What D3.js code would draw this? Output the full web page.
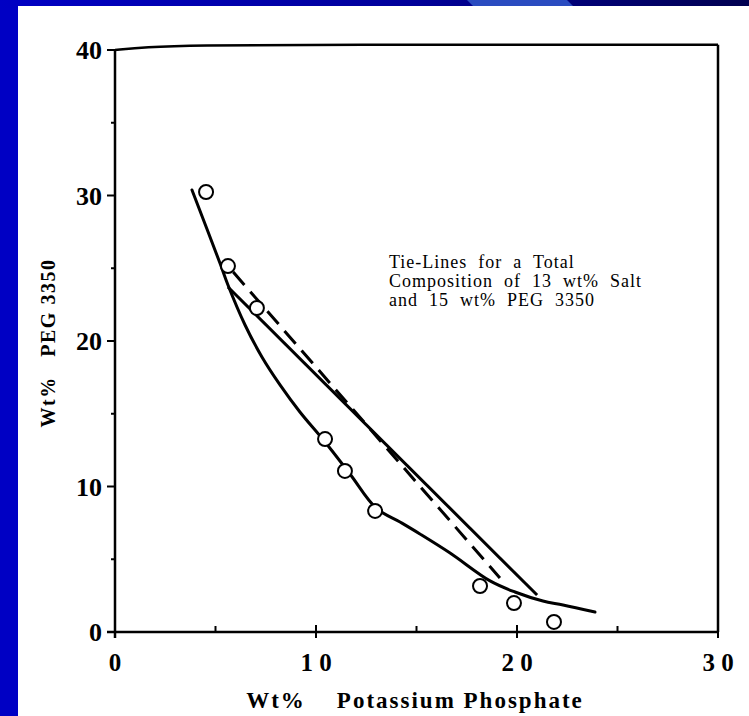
<!DOCTYPE html>
<html><head><meta charset="utf-8">
<script src="https://cdn.jsdelivr.net/npm/d3@7"></script>
<style>
html,body{margin:0;padding:0;background:#fff;}
svg{display:block;}
text{font-family:"Liberation Serif","Times New Roman",serif;fill:#000;}
</style></head>
<body>
<svg id="chart" width="749" height="716"></svg>
<script>
// ---- data ----
const pointX = [4.53, 5.62, 7.06, 10.45, 11.44, 12.94, 18.16, 19.85, 21.84];
const pointY = [30.24, 25.15, 22.27, 13.26, 11.07, 8.32, 3.16, 1.99, 0.69];

const binodalX = [3.83, 5.22, 5.62, 6.47, 7.31, 8.21, 9.2, 10.45, 11.69, 12.99, 14.18, 15.17, 16.67, 18.66, 19.9, 21.29, 22.29, 23.88];
const binodalY = [30.38, 25.36, 23.85, 21.1, 18.9, 16.98, 15.12, 13.06, 10.86, 8.52, 7.56, 6.74, 5.43, 3.51, 2.75, 2.13, 1.86, 1.37];

const tieSolidX = [5.62, 21.0];
const tieSolidY = [23.71, 2.54];
const tieDashX = [5.62, 19.15];
const tieDashY = [25.15, 3.71];

const xTicks = [0, 10, 20, 30];
const xTickLabels = ["0", "1 0", "2 0", "3 0"];
const xMinorTicks = [5, 15, 25];
const yTicks = [0, 10, 20, 30, 40];
const yTickLabels = ["0", "10", "20", "30", "40"];
const yMinorTicks = [5, 15, 25, 35];

const xTitle = "Wt%    Potassium Phosphate";
const yTitle = "Wt%   PEG 3350";
const noteLines = ["Tie-Lines for a Total", "Composition of 13 wt% Salt", "and 15 wt% PEG 3350"];

// ---- drawing ----
const svg = d3.select("#chart");
const W = 749, H = 716;

// background (slide)
const defs = svg.append("defs");
const g1 = defs.append("linearGradient").attr("id", "topgrad").attr("x1", "0").attr("x2", "1");
g1.append("stop").attr("offset", "0").attr("stop-color", "#0000c4");
g1.append("stop").attr("offset", "0.55").attr("stop-color", "#00009a");
g1.append("stop").attr("offset", "1").attr("stop-color", "#000050");
svg.append("rect").attr("x", 0).attr("y", 0).attr("width", W).attr("height", H).attr("fill", "#0000c4");
svg.append("rect").attr("x", 0).attr("y", 0).attr("width", W).attr("height", 8).attr("fill", "url(#topgrad)");
svg.append("path").attr("d", "M467,0 L567,0 L575,8 L475,8 Z").attr("fill", "#2a4cc0");
svg.append("rect").attr("x", 18).attr("y", 6).attr("width", W - 18).attr("height", H - 6).attr("fill", "#fff");

const x = d3.scaleLinear().domain([0, 30]).range([115, 718]);
const y = d3.scaleLinear().domain([0, 40]).range([632, 50]);

// frame: top border (slightly curved at the left) and right border
const frameTop = d3.line().x(d => x(d[0])).y(d => y(d[1])).curve(d3.curveBasis);
svg.append("path")
  .attr("d", frameTop([[0, 40], [1.5, 40.2], [4, 40.33], [10, 40.36], [30, 40.36]]))
  .attr("fill", "none").attr("stroke", "#000").attr("stroke-width", 2.5);
svg.append("line").attr("x1", x(30)).attr("x2", x(30)).attr("y1", y(40.36)).attr("y2", y(0))
  .attr("stroke", "#000").attr("stroke-width", 2.5);

// x axis
const xAxis = svg.append("g").attr("transform", `translate(0,${y(0)})`);
xAxis.append("line").attr("x1", x(0) - 8).attr("x2", x(30)).attr("y1", 0).attr("y2", 0)
  .attr("stroke", "#000").attr("stroke-width", 2.5);
xAxis.selectAll("line.maj").data(xTicks).join("line").attr("class", "maj")
  .attr("x1", d => x(d)).attr("x2", d => x(d)).attr("y1", -7).attr("y2", 6)
  .attr("stroke", "#000").attr("stroke-width", 2);
xAxis.selectAll("line.min").data(xMinorTicks).join("line").attr("class", "min")
  .attr("x1", d => x(d)).attr("x2", d => x(d)).attr("y1", -6).attr("y2", 0)
  .attr("stroke", "#000").attr("stroke-width", 2);
xAxis.selectAll("text").data(xTicks).join("text")
  .attr("x", d => x(d)).attr("y", 39)
  .attr("text-anchor", "middle").attr("font-weight", "bold").attr("font-size", 25)
  .text((d, i) => xTickLabels[i]);

// y axis
const yAxis = svg.append("g").attr("transform", `translate(${x(0)},0)`);
yAxis.append("line").attr("x1", 0).attr("x2", 0).attr("y1", y(40)).attr("y2", y(0) + 6)
  .attr("stroke", "#000").attr("stroke-width", 2.5);
yAxis.selectAll("line.maj").data(yTicks).join("line").attr("class", "maj")
  .attr("x1", -8).attr("x2", 0).attr("y1", d => y(d)).attr("y2", d => y(d))
  .attr("stroke", "#000").attr("stroke-width", 2);
yAxis.selectAll("line.min").data(yMinorTicks).join("line").attr("class", "min")
  .attr("x1", -4).attr("x2", 0).attr("y1", d => y(d)).attr("y2", d => y(d))
  .attr("stroke", "#000").attr("stroke-width", 2);
yAxis.selectAll("text").data(yTicks).join("text")
  .attr("x", -13).attr("y", d => y(d) + 9)
  .attr("text-anchor", "end").attr("font-weight", "bold").attr("font-size", 26)
  .text((d, i) => yTickLabels[i]);

// axis titles
svg.append("text").attr("x", 415).attr("y", 708)
  .attr("text-anchor", "middle").attr("font-weight", "bold").attr("font-size", 23)
  .attr("letter-spacing", 2).style("white-space", "pre")
  .text(xTitle);
svg.append("text").attr("transform", "translate(55,343) rotate(-90)")
  .attr("text-anchor", "middle").attr("font-weight", "bold").attr("font-size", 20)
  .attr("letter-spacing", 1.5).style("white-space", "pre")
  .text(yTitle);

// binodal curve
const binodal = binodalX.map((v, i) => [v, binodalY[i]]);
const line = d3.line().x(d => x(d[0])).y(d => y(d[1])).curve(d3.curveCatmullRom.alpha(0.5));
svg.append("path").attr("d", line(binodal))
  .attr("fill", "none").attr("stroke", "#000").attr("stroke-width", 3).attr("stroke-linecap", "round");

// tie lines
const straight = d3.line().x(d => x(d[0])).y(d => y(d[1]));
svg.append("path").attr("d", straight(tieSolidX.map((v, i) => [v, tieSolidY[i]])))
  .attr("fill", "none").attr("stroke", "#000").attr("stroke-width", 3);
svg.append("path").attr("d", straight(tieDashX.map((v, i) => [v, tieDashY[i]])))
  .attr("fill", "none").attr("stroke", "#000").attr("stroke-width", 3)
  .attr("stroke-dasharray", "17,9").attr("stroke-dashoffset", -8);

// data points
svg.selectAll("circle.pt").data(pointX.map((v, i) => [v, pointY[i]])).join("circle")
  .attr("class", "pt").attr("cx", d => x(d[0])).attr("cy", d => y(d[1])).attr("r", 7)
  .attr("fill", "#fff").attr("stroke", "#000").attr("stroke-width", 2);

// note
svg.append("g").selectAll("text").data(noteLines).join("text")
  .attr("x", 389).attr("y", (d, i) => 268 + i * 19)
  .attr("font-size", 18).attr("letter-spacing", 1).attr("word-spacing", 5.5)
  .text(d => d);
</script>
</body></html>
